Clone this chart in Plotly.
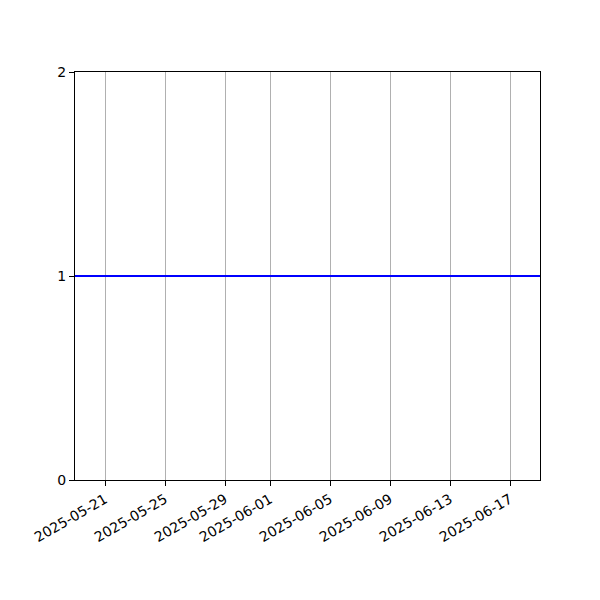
import plotly.graph_objects as go

dates = ["2025-05-19", "2025-05-20", "2025-05-21", "2025-05-22", "2025-05-23", "2025-05-24",
         "2025-05-25", "2025-05-26", "2025-05-27", "2025-05-28", "2025-05-29", "2025-05-30",
         "2025-05-31", "2025-06-01", "2025-06-02", "2025-06-03", "2025-06-04", "2025-06-05",
         "2025-06-06", "2025-06-07", "2025-06-08", "2025-06-09", "2025-06-10", "2025-06-11",
         "2025-06-12", "2025-06-13", "2025-06-14", "2025-06-15", "2025-06-16", "2025-06-17",
         "2025-06-18", "2025-06-19"]
values = [1] * len(dates)

x_ticks = ["2025-05-21", "2025-05-25", "2025-05-29", "2025-06-01",
           "2025-06-05", "2025-06-09", "2025-06-13", "2025-06-17"]
y_ticks = [0, 1, 2]
x_range = ["2025-05-19", "2025-06-19"]

fig = go.Figure()
fig.add_trace(go.Scatter(x=dates, y=values, mode="lines",
                         line=dict(color="#0000ff", width=2), showlegend=False))

fig.update_layout(
    width=600, height=600,
    margin=dict(l=67, r=68, t=64, b=128),
    plot_bgcolor="white", paper_bgcolor="white",
    font=dict(family="DejaVu Sans", size=14, color="black"),
)
fig.update_xaxes(
    type="date", range=x_range,
    tickvals=x_ticks, ticktext=x_ticks, tickangle=-30,
    showgrid=True, gridcolor="#b0b0b0", gridwidth=1,
    showline=True, linecolor="black", linewidth=1, mirror=True,
    ticks="outside", ticklen=5, tickcolor="black", zeroline=False,
)
fig.update_yaxes(
    range=[0, 2], tickvals=y_ticks, ticktext=[str(v) for v in y_ticks],
    showgrid=False,
    showline=True, linecolor="black", linewidth=1, mirror=True,
    ticks="outside", ticklen=5, tickcolor="black", zeroline=False,
)

fig.write_html("out.html")
